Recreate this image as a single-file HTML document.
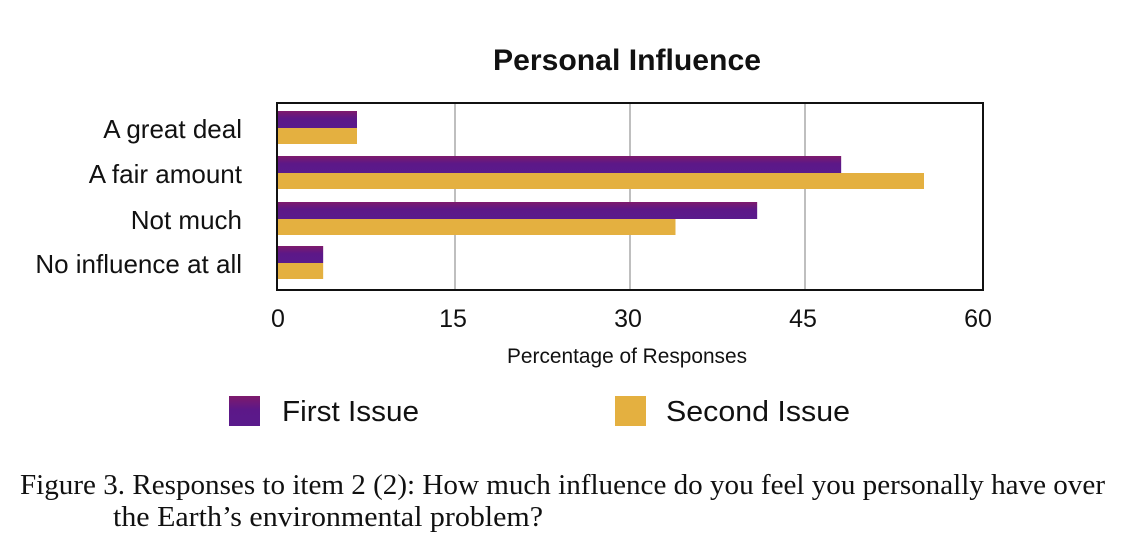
<!DOCTYPE html>
<html><head><meta charset="utf-8"><style>
body{margin:0;background:#fff;width:1146px;height:544px;overflow:hidden}
text{font-family:"Liberation Sans",sans-serif;fill:#111}
.serif{font-family:"Liberation Serif",serif}
</style></head><body>
<svg id="chart" width="1146" height="544" xmlns="http://www.w3.org/2000/svg">
<defs>
<linearGradient id="pg" x1="0" y1="0" x2="0" y2="1">
<stop offset="0" stop-color="#7e1a6c"/><stop offset="0.45" stop-color="#5c1888"/><stop offset="1" stop-color="#5a1a8c"/>
</linearGradient>
</defs>
<text x="627" y="70" text-anchor="middle" font-size="30" font-weight="bold" textLength="268" lengthAdjust="spacingAndGlyphs">Personal Influence</text>
<g id="grid"></g>
<g id="bars"></g>
<rect x="277" y="103" width="706" height="187" fill="none" stroke="#111" stroke-width="2"/>
<g id="ylabels"></g>
<g id="xticks"></g>
<text x="627" y="363" text-anchor="middle" font-size="21" textLength="240" lengthAdjust="spacingAndGlyphs">Percentage of Responses</text>
<rect x="229" y="396" width="31" height="30" fill="url(#pg)"/>
<text x="282" y="421" font-size="29" textLength="137" lengthAdjust="spacingAndGlyphs">First Issue</text>
<rect x="615" y="396" width="31" height="30" fill="#e4b040"/>
<text x="666" y="421" font-size="29" textLength="184" lengthAdjust="spacingAndGlyphs">Second Issue</text>
<text class="serif" x="20" y="494" font-size="28" textLength="1085" lengthAdjust="spacingAndGlyphs">Figure 3. Responses to item 2 (2): How much influence do you feel you personally have over</text>
<text class="serif" x="113" y="526" font-size="28" textLength="430" lengthAdjust="spacingAndGlyphs">the Earth’s environmental problem?</text>
</svg>
<script>
const categories = ["A great deal","A fair amount","Not much","No influence at all"];
const firstIssue = [6.6,48.1,40.9,3.7];
const secondIssue = [6.6,55.2,33.9,3.7];
const xTicks = [0,15,30,45,60];
const NS="http://www.w3.org/2000/svg";
const x0=280, x1=980, xMax=60;
const xs=v=>x0+(v/xMax)*(x1-x0);
const rowTop=[111,156,202,246];
function mk(tag,attrs,parent){const e=document.createElementNS(NS,tag);for(const k in attrs)e.setAttribute(k,attrs[k]);parent.appendChild(e);return e;}
const grid=document.getElementById('grid'),bars=document.getElementById('bars'),yl=document.getElementById('ylabels'),xt=document.getElementById('xticks');
xTicks.forEach((t,i)=>{
  if(i>0&&i<xTicks.length-1){const l=mk('line',{x1:xs(t),x2:xs(t),y1:103,y2:290,stroke:'#aaa','stroke-width':1.5},grid);
  
  }
  const tx=mk('text',{x:xs(t)-2,y:327,'text-anchor':'middle','font-size':25},xt);tx.textContent=t;
  
  
});
categories.forEach((c,i)=>{
  const y=rowTop[i];
  const a=mk('rect',{x:278,y:y,width:xs(firstIssue[i])-278,height:17,fill:'url(#pg)'},bars);
  
  
  const b=mk('rect',{x:278,y:y+17,width:xs(secondIssue[i])-278,height:16,fill:'#e4b040'},bars);
  
  
  const t=mk('text',{x:242,y:y+27,'text-anchor':'end','font-size':26},yl);t.textContent=c;
  
  
});
</script>
</body></html>
